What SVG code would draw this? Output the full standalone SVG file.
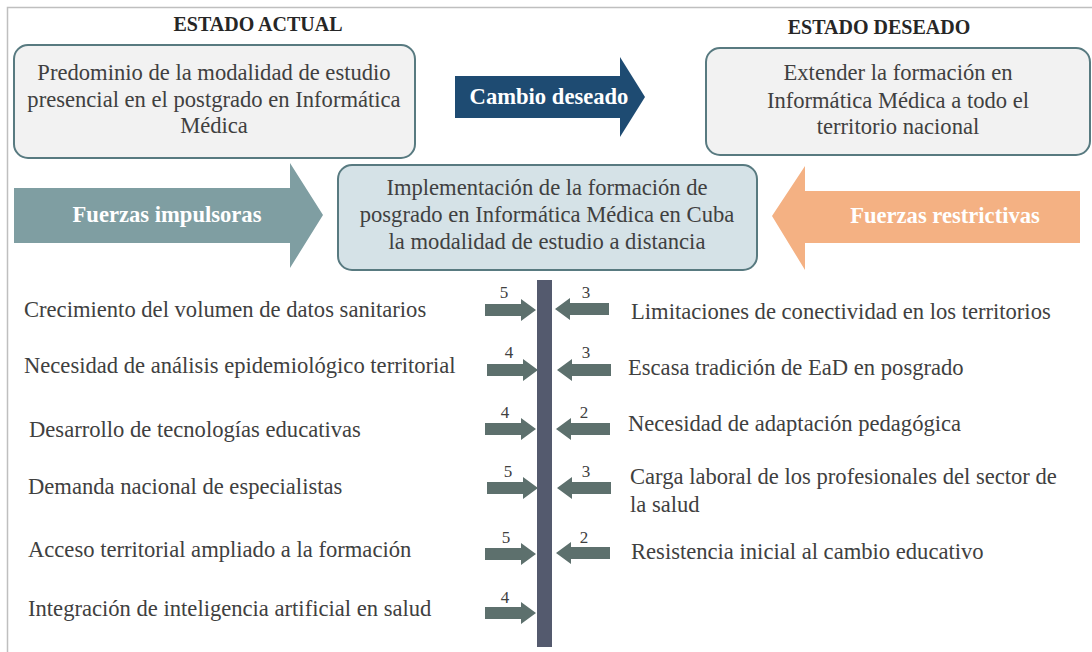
<svg xmlns="http://www.w3.org/2000/svg" width="1092" height="652" viewBox="0 0 1092 652">
<style>
text{font-family:'Liberation Serif','Times New Roman','DejaVu Serif',serif}
.t{font-size:22.6px;fill:#404040}
.c{text-anchor:middle}
.h{font-size:20px;font-weight:bold;fill:#262626;text-anchor:middle}
.w{font-size:22.6px;font-weight:bold;fill:#ffffff;text-anchor:middle}
.n{font-size:17px;fill:#404040;text-anchor:middle}
.box{fill:#f2f2f2;stroke:#587a80;stroke-width:2}
.fa{fill:#5d706d}
</style>
<defs>
<path id="la" d="M0,-6 H36 V-11 L51,0 L36,11 V6 H0 Z" class="fa"/>
<path id="ra" d="M0,0 L15,-11 V-6 H54 V6 H15 V11 Z" class="fa"/>
</defs>
<path d="M7.5,652 V7.5 H1092" fill="none" stroke="#bfbfbf" stroke-width="1.5"/>
<text class="h" x="258" y="31">ESTADO ACTUAL</text>
<text class="h" x="879" y="34">ESTADO DESEADO</text>
<g id="estado-actual">
<rect class="box" x="14" y="45" width="401" height="113" rx="14"/>
<text class="t c" x="214" y="80">Predominio de la modalidad de estudio</text>
<text class="t c" x="214" y="107">presencial en el postgrado en Informática</text>
<text class="t c" x="214" y="133">Médica</text>
</g>
<g id="cambio-deseado">
<path d="M455,76 H620 V57 L645,97 L620,137 V118 H455 Z" fill="#1e4b72"/>
<text class="w" x="549" y="104">Cambio deseado</text>
</g>
<g id="estado-deseado">
<rect class="box" x="706" y="48" width="384" height="107" rx="14"/>
<text class="t c" x="898" y="80">Extender la formación en</text>
<text class="t c" x="898" y="108">Informática Médica a todo el</text>
<text class="t c" x="898" y="134">territorio nacional</text>
</g>
<g id="fuerzas-impulsoras">
<path d="M14,188 H290 V163 L323,215 L290,268 V243 H14 Z" fill="#7f9ea2"/>
<text class="w" x="167" y="222">Fuerzas impulsoras</text>
</g>
<g id="implementacion">
<rect x="338" y="165" width="419" height="105" rx="14" fill="#d5e2e7" stroke="#587a80" stroke-width="2"/>
<text class="t c" x="547" y="195">Implementación de la formación de</text>
<text class="t c" x="547" y="222">posgrado en Informática Médica en Cuba</text>
<text class="t c" x="547" y="249">la modalidad de estudio a distancia</text>
</g>
<g id="fuerzas-restrictivas">
<path d="M772,216 L805,166 V191 H1080 V243 H805 V270 Z" fill="#f4b183"/>
<text class="w" x="945" y="223">Fuerzas restrictivas</text>
</g>
<g id="eje">
<rect x="537" y="280" width="15" height="367" fill="#545a6e"/>
</g>
<g id="connectors">
<use href="#la" x="485" y="310"/>
<use href="#la" x="487" y="370"/>
<use href="#la" x="485" y="429"/>
<use href="#la" x="487" y="488"/>
<use href="#la" x="485" y="554"/>
<use href="#la" x="485" y="613"/>
<use href="#ra" x="555" y="309"/>
<use href="#ra" x="557" y="370"/>
<use href="#ra" x="556" y="429"/>
<use href="#ra" x="557" y="488"/>
<use href="#ra" x="556" y="553"/>
</g>
<g id="pesos">
<text class="n" x="504" y="298">5</text>
<text class="n" x="509" y="358">4</text>
<text class="n" x="505" y="418">4</text>
<text class="n" x="508" y="477">5</text>
<text class="n" x="506" y="543">5</text>
<text class="n" x="505" y="603">4</text>
<text class="n" x="586" y="298">3</text>
<text class="n" x="586" y="358">3</text>
<text class="n" x="584" y="418">2</text>
<text class="n" x="586" y="477">3</text>
<text class="n" x="584" y="543">2</text>
</g>
<g id="impulsoras">
<text class="t" x="24" y="317">Crecimiento del volumen de datos sanitarios</text>
<text class="t" x="24" y="373">Necesidad de análisis epidemiológico territorial</text>
<text class="t" x="29" y="437">Desarrollo de tecnologías educativas</text>
<text class="t" x="28" y="494">Demanda nacional de especialistas</text>
<text class="t" x="28" y="557">Acceso territorial ampliado a la formación</text>
<text class="t" x="28" y="616">Integración de inteligencia artificial en salud</text>
</g>
<g id="restrictivas">
<text class="t" x="631" y="319">Limitaciones de conectividad en los territorios</text>
<text class="t" x="628" y="375">Escasa tradición de EaD en posgrado</text>
<text class="t" x="628" y="431">Necesidad de adaptación pedagógica</text>
<text class="t" x="630" y="484">Carga laboral de los profesionales del sector de</text>
<text class="t" x="630" y="512">la salud</text>
<text class="t" x="631" y="559">Resistencia inicial al cambio educativo</text>
</g>
</svg>
